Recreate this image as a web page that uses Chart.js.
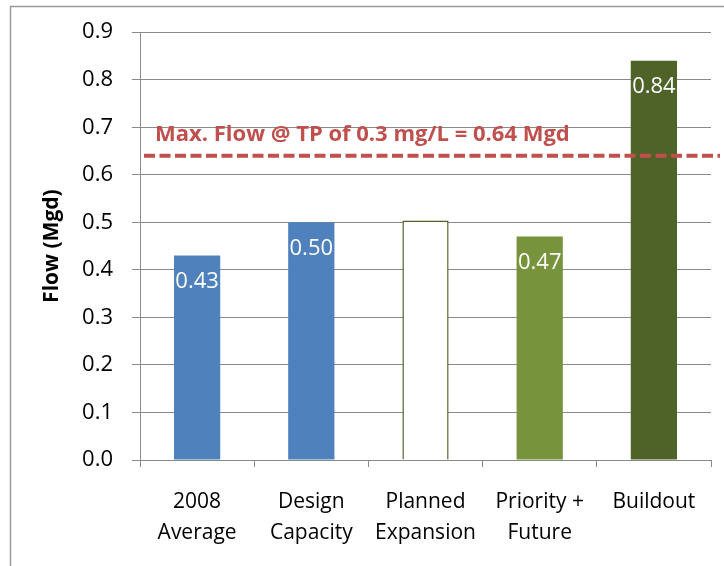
<!DOCTYPE html>
<html>
<head>
<meta charset="utf-8">
<script src="https://cdn.jsdelivr.net/npm/chart.js@4/dist/chart.umd.min.js"></script>
<style>
  html, body { margin: 0; padding: 0; background: #ffffff; }
  canvas { display: block; }
</style>
</head>
<body>
<canvas id="flowChart" width="724" height="566"></canvas>
<script>
// Flow scenarios (Mgd)
const categories = [
  ['2008', 'Average'],
  ['Design', 'Capacity'],
  ['Planned', 'Expansion'],
  ['Priority +', 'Future'],
  ['Buildout']
];
const flowValues = [0.43, 0.50, 0.504, 0.47, 0.84];
const showValueLabel = [true, true, false, true, true];
const barFills = ['#4F81BD', '#4F81BD', '#FFFFFF', '#77933C', '#4F6228'];
const barBorders = ['#4F81BD', '#4F81BD', '#4F6228', '#77933C', '#4F6228'];
const barBorderWidths = [0, 0, 1.5, 0, 0];

// Axis range
const yMin = 0.0;
const yMax = 0.9;
const yStep = 0.1;

// Phosphorus-limited capacity
const limitFlow = 0.64;
const limitLabel = 'Max. Flow @ TP of 0.3 mg/L = 0.64 Mgd';

const FONT = '"Open Sans", "Liberation Sans", sans-serif';
const GRID = '#8a8a8a';

// Outer frame around the chart
const framePlugin = {
  id: 'frame',
  beforeDraw(chart) {
    const ctx = chart.ctx;
    ctx.save();
    ctx.fillStyle = '#ffffff';
    ctx.fillRect(0, 0, chart.width, chart.height);
    ctx.strokeStyle = '#9a9a9a';
    ctx.lineWidth = 1.5;
    ctx.strokeRect(10.5, 6.5, chart.width + 20, chart.height + 20);
    ctx.restore();
  }
};

// White value labels inside the top of each bar
const valueLabelPlugin = {
  id: 'valueLabels',
  afterDatasetsDraw(chart) {
    const ctx = chart.ctx;
    const meta = chart.getDatasetMeta(0);
    ctx.save();
    ctx.font = '22px ' + FONT;
    ctx.fillStyle = '#ffffff';
    ctx.textAlign = 'center';
    ctx.textBaseline = 'middle';
    meta.data.forEach((bar, i) => {
      if (!showValueLabel[i]) return;
      ctx.fillText(flowValues[i].toFixed(2), bar.x, bar.y + 26);
    });
    ctx.restore();
  }
};

// Dashed limit line with its caption
const limitLinePlugin = {
  id: 'limitLine',
  afterDatasetsDraw(chart) {
    const ctx = chart.ctx;
    const area = chart.chartArea;
    const y = chart.scales.y.getPixelForValue(limitFlow);
    ctx.save();
    ctx.strokeStyle = '#C0504D';
    ctx.lineWidth = 4;
    ctx.setLineDash([11, 4.5]);
    ctx.beginPath();
    ctx.moveTo(area.left + 4, y);
    ctx.lineTo(area.right + 9, y);
    ctx.stroke();
    ctx.setLineDash([]);
    ctx.font = 'bold 22px ' + FONT;
    ctx.fillStyle = '#C0504D';
    ctx.textAlign = 'left';
    ctx.textBaseline = 'alphabetic';
    ctx.fillText(limitLabel, area.left + 15, y - 15);
    ctx.restore();
  }
};

new Chart(document.getElementById('flowChart'), {
  type: 'bar',
  data: {
    labels: categories,
    datasets: [{
      data: flowValues,
      backgroundColor: barFills,
      borderColor: barBorders,
      borderWidth: barBorderWidths,
      categoryPercentage: 1.0,
      barPercentage: 0.405
    }]
  },
  options: {
    responsive: false,
    devicePixelRatio: 1,
    animation: false,
    layout: { padding: { left: 0, right: 13, top: 32, bottom: 0 } },
    plugins: {
      legend: { display: false },
      tooltip: { enabled: false }
    },
    scales: {
      x: {
        afterFit(scale) { scale.height = 106; },
        grid: {
          drawOnChartArea: false,
          drawTicks: true,
          tickLength: 7,
          color: GRID,
          offset: true
        },
        border: { color: GRID, width: 1 },
        ticks: {
          color: '#000000',
          font: { family: FONT, size: 21, lineHeight: 1.45 },
          padding: 20,
          maxRotation: 0,
          autoSkip: false
        }
      },
      y: {
        min: yMin,
        max: yMax,
        afterFit(scale) { scale.width = 140; },
        grid: {
          color: GRID,
          lineWidth: 1,
          tickLength: 8,
          drawTicks: true
        },
        border: { color: GRID, width: 1 },
        ticks: {
          stepSize: yStep,
          color: '#000000',
          font: { family: FONT, size: 22 },
          padding: 19,
          callback: (v) => Number(v).toFixed(1)
        },
        title: {
          display: true,
          text: 'Flow (Mgd)',
          color: '#000000',
          font: { family: FONT, size: 21, weight: 'bold' },
          padding: { top: 39, bottom: 0 }
        }
      }
    }
  },
  plugins: [framePlugin, valueLabelPlugin, limitLinePlugin]
});
</script>
</body>
</html>
